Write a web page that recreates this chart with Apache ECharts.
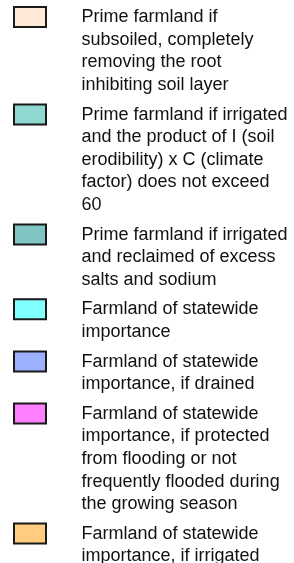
<!DOCTYPE html>
<html>
<head>
<meta charset="utf-8">
<script src="https://cdn.jsdelivr.net/npm/echarts@6/dist/echarts.min.js"></script>
<style>
html,body{margin:0;padding:0;background:#fff;}
#chart{width:294px;height:563px;}
</style>
</head>
<body>
<div id="chart"></div>
<script>
// Legend categories (full names)
var categories = [
  "Prime farmland if subsoiled, completely removing the root inhibiting soil layer",
  "Prime farmland if irrigated and the product of I (soil erodibility) x C (climate factor) does not exceed 60",
  "Prime farmland if irrigated and reclaimed of excess salts and sodium",
  "Farmland of statewide importance",
  "Farmland of statewide importance, if drained",
  "Farmland of statewide importance, if protected from flooding or not frequently flooded during the growing season",
  "Farmland of statewide importance, if irrigated"
];
// Wrapped label lines as in the picture
var labelLines = [
  ["Prime farmland if", "subsoiled, completely", "removing the root", "inhibiting soil layer"],
  ["Prime farmland if irrigated", "and the product of I (soil", "erodibility) x C (climate", "factor) does not exceed", "60"],
  ["Prime farmland if irrigated", "and reclaimed of excess", "salts and sodium"],
  ["Farmland of statewide", "importance"],
  ["Farmland of statewide", "importance, if drained"],
  ["Farmland of statewide", "importance, if protected", "from flooding or not", "frequently flooded during", "the growing season"],
  ["Farmland of statewide", "importance, if irrigated"]
];
var colors = ["#FFE9D7", "#8ED8D1", "#80C5C2", "#80FFFF", "#9DB0FF", "#FF80FF", "#FFCC80"];

var LINE_H = 22.6, GAP = 7, TOP0 = 5, LEFT = 12;
var SW_W = 34, SW_H = 22, TEXT_X = 80.5;

var chart = echarts.init(document.getElementById('chart'), null, {renderer: 'canvas'});

var series = categories.map(function (name, i) {
  return {
    type: 'bar', name: name, data: [],
    itemStyle: {color: colors[i], borderColor: '#1a1a1a', borderWidth: 2}
  };
});

var legends = [];
var y = TOP0;
categories.forEach(function (name, i) {
  var n = labelLines[i].length;
  var h = n * LINE_H;
  var w = TEXT_X - LEFT - 5;
  var icon = 'path://M0,0 M1,1 H' + (SW_W - 1) + ' V' + (SW_H - 1) + ' H1 Z M' + w + ',' + h;
  legends.push({
    orient: 'vertical',
    left: LEFT,
    top: y,
    padding: 0,
    itemGap: 0,
    itemWidth: w,
    itemHeight: h,
    selectedMode: false,
    symbolKeepAspect: false,
    data: [{name: name, icon: icon}],
    itemStyle: {borderColor: '#1a1a1a', borderWidth: 2},
    formatter: (function (lines) { return function () { return lines.join('\n'); }; })(labelLines[i]),
    textStyle: {
      fontFamily: '"Liberation Sans", Arial, sans-serif',
      fontSize: 18,
      lineHeight: LINE_H,
      color: '#111'
    }
  });
  y += h + GAP;
});

chart.setOption({
  animation: false,
  grid: {left: 0, right: 0, top: 0, bottom: 0, show: false},
  xAxis: {type: 'category', show: false, data: []},
  yAxis: {type: 'value', show: false},
  legend: legends,
  series: series
});
</script>
</body>
</html>
